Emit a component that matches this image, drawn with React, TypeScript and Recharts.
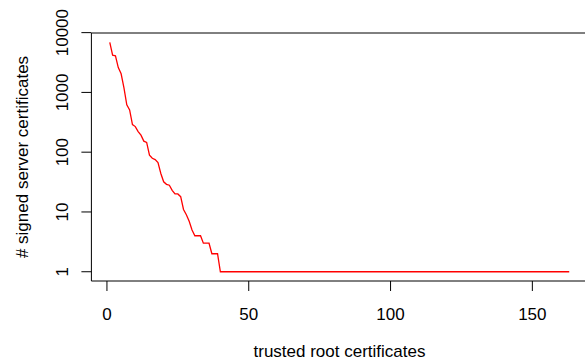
import { LineChart, Line, XAxis, YAxis, ReferenceLine } from "recharts";

// signed server certificates per trusted root, ranked
const counts = [
  6900, 4200, 4100, 2600, 2050, 1190, 620, 510, 290, 268,
  221, 193, 153, 146, 89, 79, 75, 67, 44, 32,
  29, 28, 23, 20, 20, 18, 11, 9, 7, 5,
  4, 4, 4, 3, 3, 3, 2, 2, 2, 1,
  1, 1, 1, 1, 1, 1, 1, 1, 1, 1, 1, 1, 1, 1, 1, 1, 1, 1, 1, 1,
  1, 1, 1, 1, 1, 1, 1, 1, 1, 1, 1, 1, 1, 1, 1, 1, 1, 1, 1, 1,
  1, 1, 1, 1, 1, 1, 1, 1, 1, 1, 1, 1, 1, 1, 1, 1, 1, 1, 1, 1,
  1, 1, 1, 1, 1, 1, 1, 1, 1, 1, 1, 1, 1, 1, 1, 1, 1, 1, 1, 1,
  1, 1, 1, 1, 1, 1, 1, 1, 1, 1, 1, 1, 1, 1, 1, 1, 1, 1, 1, 1,
  1, 1, 1, 1, 1, 1, 1, 1, 1, 1, 1, 1, 1, 1, 1, 1, 1, 1, 1, 1,
  1, 1, 1,
];
const xTicks = [0, 50, 100, 150];
const yTicks = [1, 10, 100, 1000, 10000];

const data = counts.map((n, i) => ({ rank: i + 1, n }));

const FONT = "'Liberation Sans', Arial, sans-serif";

function XTick({ x, payload }: any) {
  return (
    <text x={x} y={320} textAnchor="middle" fontSize={17} fontFamily={FONT} fill="#000">
      {payload.value}
    </text>
  );
}

function YTick({ y, payload }: any) {
  return (
    <text
      x={68}
      y={y}
      transform={`rotate(-90, 68, ${y})`}
      textAnchor="middle"
      fontSize={17}
      fontFamily={FONT}
      fill="#000"
    >
      {payload.value}
    </text>
  );
}

export default function App() {
  return (
    <div
      style={{
        position: "absolute",
        left: 0,
        top: 0,
        width: 585,
        height: 362,
        overflow: "hidden",
        background: "#fff",
      }}
    >
      <LineChart
        width={600}
        height={362}
        data={data}
        margin={{ top: 33, right: 12.4, left: 0, bottom: 0 }}
      >
        <XAxis
          dataKey="rank"
          type="number"
          domain={[-5.48, 169.48]}
          ticks={xTicks}
          allowDataOverflow
          height={81}
          tickSize={10}
          stroke="#000"
          tick={<XTick />}
          label={{
            content: () => (
              <text x={339.5} y={357} textAnchor="middle" fontSize={17} fontFamily={FONT} fill="#000">
                trusted root certificates
              </text>
            ),
          }}
        />
        <YAxis
          dataKey="n"
          scale="log"
          domain={[0.7, 9860]}
          ticks={yTicks}
          allowDataOverflow
          width={91.4}
          tickSize={10}
          stroke="#000"
          tick={<YTick />}
          label={{
            content: () => (
              <text
                x={28}
                y={157}
                transform="rotate(-90, 28, 157)"
                textAnchor="middle"
                fontSize={17}
                fontFamily={FONT}
                fill="#000"
              >
                # signed server certificates
              </text>
            ),
          }}
        />
        <ReferenceLine y={9860} stroke="#000" />
        <Line
          dataKey="n"
          type="linear"
          stroke="#ff0000"
          strokeWidth={1.3}
          dot={false}
          isAnimationActive={false}
        />
      </LineChart>
    </div>
  );
}
